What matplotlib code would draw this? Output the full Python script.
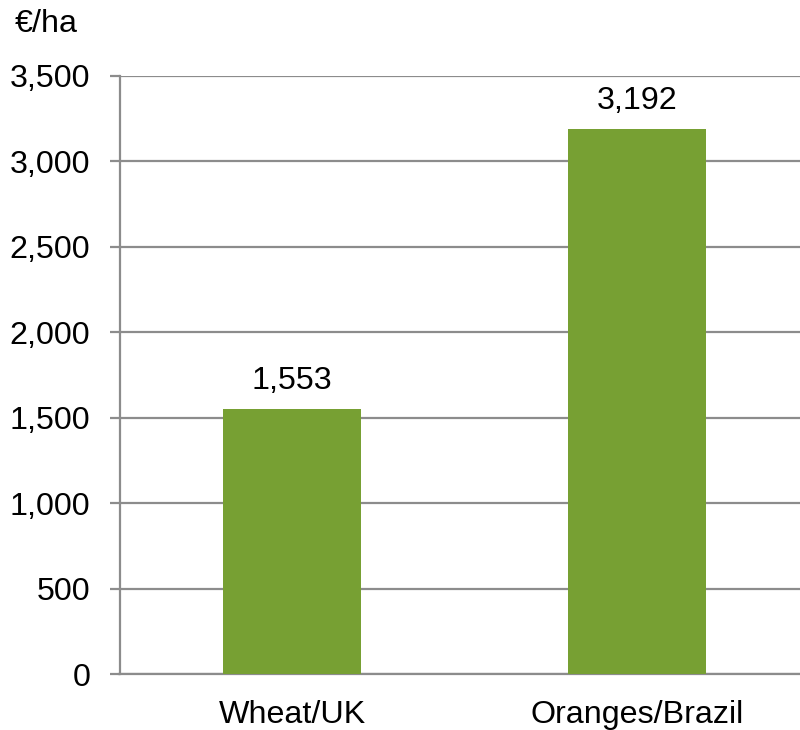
import matplotlib
matplotlib.use("Agg")
import matplotlib.pyplot as plt
from matplotlib.ticker import FuncFormatter, MultipleLocator

categories = ["Wheat/UK", "Oranges/Brazil"]
values = [1553, 3192]
unit_label = "€/ha"

plt.rcParams['font.family'] = ['Liberation Sans', 'DejaVu Sans']

W, H = 800, 730
FS = 23.2
fig = plt.figure(figsize=(W / 100, H / 100), dpi=100)
# plot area runs slightly past the right edge of the canvas
ax = fig.add_axes([119.5 / W, 1 - 674 / H, 690 / W, (674 - 76) / H])

bar_color = "#77A033"
grid_color = "#8C8C8C"

x = list(range(len(categories)))
ax.bar(x, values, width=0.4, color=bar_color, zorder=3)

ax.set_xlim(-0.5, 1.5)
ax.set_ylim(0, 3500)
ax.yaxis.set_major_locator(MultipleLocator(500))
ax.yaxis.set_major_formatter(FuncFormatter(lambda v, p: f"{int(v):,}"))
ax.grid(axis="y", color=grid_color, linewidth=1.6, zorder=0)

for s in ["top", "right"]:
    ax.spines[s].set_visible(False)
for s in ["left", "bottom"]:
    ax.spines[s].set_color(grid_color)
    ax.spines[s].set_linewidth(1.6)

ax.set_xticks(x)
ax.set_xticklabels(categories)
ax.tick_params(axis="x", length=0, labelsize=FS, pad=19)
ax.tick_params(axis="y", length=7.5, width=1.6, color=grid_color,
               labelsize=FS, pad=13.5)

for xi, v in zip(x, values):
    ax.annotate(f"{v:,}", (xi, v), xytext=(0, 9), textcoords="offset points",
                ha="center", va="bottom", fontsize=FS)

fig.text(15 / W, 1 - 24 / H, unit_label, ha="left", va="center", fontsize=FS)

fig.savefig("out.png", dpi=100)
